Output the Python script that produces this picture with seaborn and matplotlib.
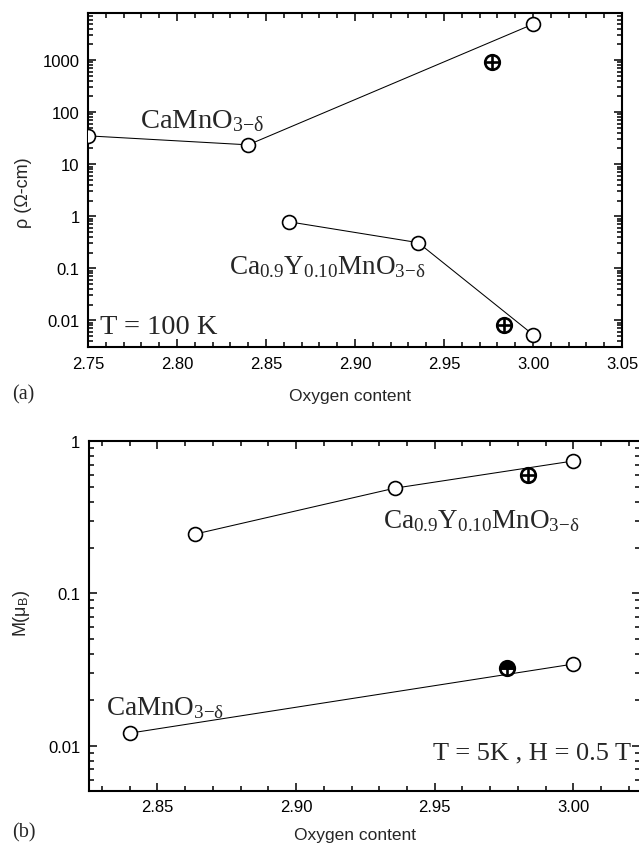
import matplotlib
matplotlib.use("Agg")
import matplotlib.pyplot as plt
import matplotlib.ticker as mticker
import seaborn as sns

# (a) resistivity at T = 100 K
x_ca_rho = [2.75, 2.84, 3.00]
rho_ca = [35, 23.5, 4900]
x_cay_rho = [2.863, 2.9355, 3.00]
rho_cay = [0.78, 0.31, 0.0053]
x_rho_cross = [2.977, 2.9835]
rho_cross = [930, 0.008]

# (b) magnetization at T = 5 K, H = 0.5 T
x_cay_m = [2.8636, 2.9355, 3.00]
m_cay = [0.245, 0.49, 0.74]
x_ca_m = [2.84, 3.00]
m_ca = [0.0121, 0.0344]
x_m_cross = [2.9836]
m_cross = [0.598]
x_m_half = [2.976]
m_half = [0.0322]

x_ticks_a = [2.75, 2.80, 2.85, 2.90, 2.95, 3.00, 3.05]
x_ticks_b = [2.85, 2.90, 2.95, 3.00]
rho_ticks = [0.01, 0.1, 1, 10, 100, 1000]
rho_labels = ["0.01", "0.1", "1", "10", "100", "1000"]
m_ticks = [0.01, 0.1, 1]
m_labels = ["0.01", "0.1", "1"]

sns.set_theme(style="ticks")
plt.rcParams["font.family"] = ["Liberation Sans", "DejaVu Sans"]
plt.rcParams["mathtext.fontset"] = "custom"
plt.rcParams["mathtext.rm"] = "Liberation Serif"
plt.rcParams["mathtext.it"] = "Liberation Serif:italic"
plt.rcParams["mathtext.bf"] = "Liberation Serif:bold"
plt.rcParams["mathtext.sf"] = "Liberation Sans"
plt.rcParams["mathtext.default"] = "rm"

SERIF = ["Liberation Serif", "DejaVu Serif"]


def series(ax, x, y):
    sns.lineplot(x=x, y=y, ax=ax, color="black", linewidth=0.75, marker="o",
                 markersize=10, markerfacecolor="white", markeredgecolor="black",
                 markeredgewidth=1.2, errorbar=None, zorder=3)


def crossed(ax, x, y, half=False):
    sns.lineplot(x=x, y=y, ax=ax, color="black", linestyle="", marker="o",
                 markersize=10.5, markerfacecolor="black" if half else "white",
                 markerfacecoloralt="white", fillstyle="top" if half else "full",
                 markeredgecolor="black", markeredgewidth=1.9, errorbar=None, zorder=4)
    sns.lineplot(x=x, y=y, ax=ax, color="black", linestyle="", marker="+",
                 markersize=10.5, markeredgecolor="black", markeredgewidth=1.9,
                 errorbar=None, zorder=5)


def style(ax, xticks, yticks, ylabels):
    ax.set_yscale("log")
    ax.xaxis.set_major_locator(mticker.FixedLocator(xticks))
    ax.xaxis.set_major_formatter(mticker.FormatStrFormatter("%.2f"))
    ax.xaxis.set_minor_locator(mticker.MultipleLocator(0.01))
    ax.yaxis.set_major_locator(mticker.FixedLocator(yticks))
    ax.yaxis.set_major_formatter(mticker.FixedFormatter(ylabels))
    ax.yaxis.set_minor_locator(mticker.LogLocator(subs=range(2, 10), numticks=20))
    ax.yaxis.set_minor_formatter(mticker.NullFormatter())
    ax.tick_params(which="both", direction="in", top=True, right=True,
                   width=1.1, labelsize=12, colors="black")
    ax.tick_params(which="major", length=6, pad=6)
    ax.tick_params(which="minor", length=3.5)
    for s in ax.spines.values():
        s.set_linewidth(1.5)
        s.set_color("black")


fig = plt.figure(figsize=(6.39, 8.45), dpi=100)

# ---- panel (a)
ax1 = fig.add_axes([0.1377, 0.5876, 0.8357, 0.3954])
series(ax1, x_ca_rho, rho_ca)
series(ax1, x_cay_rho, rho_cay)
crossed(ax1, x_rho_cross, rho_cross)
style(ax1, x_ticks_a, rho_ticks, rho_labels)
ax1.set_xlim(2.75, 3.05)
ax1.set_ylim(0.003, 7900)
ax1.set_xlabel("Oxygen content", fontsize=12.5)
ax1.xaxis.set_label_coords(0.49, -0.12)
ax1.set_ylabel("ρ (Ω-cm)", fontsize=13)
ax1.yaxis.set_label_coords(-0.105, 0.465)
ax1.text(2.779, 52, r"CaMnO$_{3\mathrm{-}\delta}$", family=SERIF, fontsize=20.5)
ax1.text(2.829, 0.079, r"Ca$_{0.9}$Y$_{0.10}$MnO$_{3\mathrm{-}\delta}$",
         family=SERIF, fontsize=19.5)
ax1.text(2.757, 0.0058, "T = 100 K", family=SERIF, fontsize=20.5)

# ---- panel (b)
ax2 = fig.add_axes([0.1385, 0.0627, 0.8631, 0.4142])
series(ax2, x_cay_m, m_cay)
series(ax2, x_ca_m, m_ca)
crossed(ax2, x_m_cross, m_cross)
crossed(ax2, x_m_half, m_half, half=True)
style(ax2, x_ticks_b, m_ticks, m_labels)
ax2.set_xlim(2.8252, 3.024)
ax2.set_ylim(0.00505, 1)
ax2.set_xlabel("Oxygen content", fontsize=12.5)
ax2.xaxis.set_label_coords(0.483, -0.102)
ax2.set_ylabel(r"M(μ$_{\mathsf{B}}$)", fontsize=13)
ax2.yaxis.set_label_coords(-0.103, 0.511)
ax2.text(2.9315, 0.272, r"Ca$_{0.9}$Y$_{0.10}$MnO$_{3\mathrm{-}\delta}$",
         family=SERIF, fontsize=19.5)
ax2.text(2.8316, 0.01615, r"CaMnO$_{3\mathrm{-}\delta}$", family=SERIF, fontsize=19.5)
ax2.text(2.9495, 0.0083, "T = 5K , H = 0.5 T", family=SERIF, fontsize=19)

fig.text(12 / 639, 1 - 395 / 845, "(a)", family=SERIF, fontsize=14.5, va="center")
fig.text(12 / 639, 1 - 833 / 845, "(b)", family=SERIF, fontsize=14.5, va="center")

fig.savefig("out.png", dpi=100)
